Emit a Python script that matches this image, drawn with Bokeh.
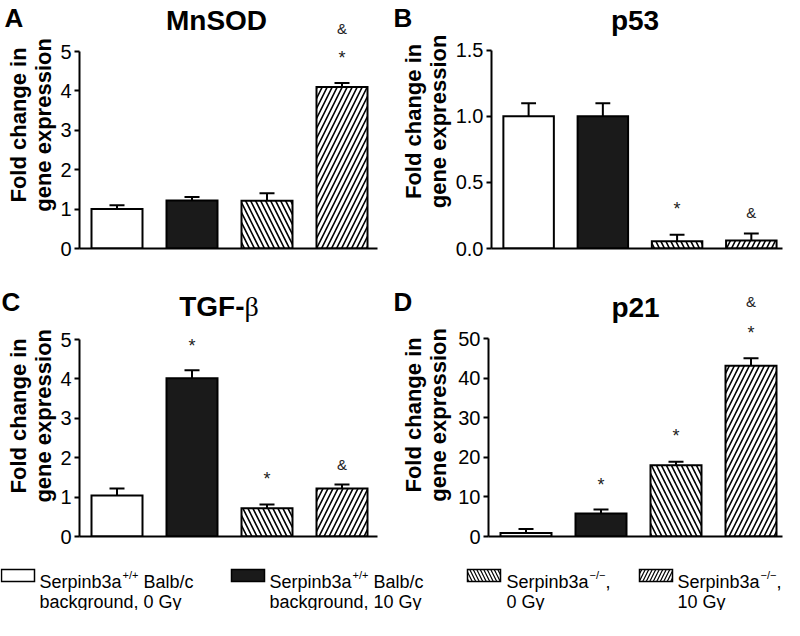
import math
from bokeh.plotting import figure
from bokeh.models import Range1d, FixedTicker, NumeralTickFormatter, Label, ColumnDataSource
from bokeh.layouts import column, row
from bokeh.core.properties import value
from bokeh.embed import file_html
from bokeh.resources import INLINE

# ---------------- data ----------------
bar_x = [0, 1, 2, 3]

mnsod_mean = [1.0, 1.22, 1.21, 4.10]
mnsod_err = [0.10, 0.09, 0.19, 0.10]
mnsod_ann_sym = ["*", "&"]
mnsod_ann_bar = [3, 3]
mnsod_ann_y = [4.93, 5.59]

p53_mean = [1.0, 1.0, 0.055, 0.06]
p53_err = [0.10, 0.10, 0.05, 0.053]
p53_ann_sym = ["*", "&"]
p53_ann_bar = [2, 3]
p53_ann_y = [0.33, 0.27]

tgfb_mean = [1.04, 4.02, 0.72, 1.22]
tgfb_err = [0.18, 0.20, 0.09, 0.10]
tgfb_ann_sym = ["*", "*", "&"]
tgfb_ann_bar = [1, 2, 3]
tgfb_ann_y = [4.94, 1.55, 1.83]

p21_mean = [0.9, 5.8, 18.0, 43.1]
p21_err = [1.0, 1.0, 0.9, 1.9]
p21_ann_sym = ["*", "*", "*", "&"]
p21_ann_bar = [1, 2, 3, 3]
p21_ann_y = [13.9, 26.4, 52.4, 59.4]

ticks_5 = [0, 1, 2, 3, 4, 5]
ticks_p53 = [0.0, 0.5, 1.0, 1.5]
ticks_p21 = [0, 10, 20, 30, 40, 50]

ylabel_lines = ["Fold change in", "gene expression"]

legend_main = ["Serpinb3a", "Serpinb3a", "Serpinb3a", "Serpinb3a"]
legend_sup = ["+/+", "+/+", "\u2212/\u2212", "\u2212/\u2212"]
legend_tail = ["Balb/c", "Balb/c", ",", ","]
legend_tail_gap = [" ", " ", "", ""]
legend_line2 = ["background, 0 Gy", "background, 10 Gy", "0 Gy", "10 Gy"]

# ---------------- styles ----------------
FONT = "Liberation Sans"
FILL = ["white", "#1a1a1a", "white", "white"]
HATCH = [" ", " ", "left_diagonal_line", "right_diagonal_line"]
PX = 75.0
XS = -0.5
ROW_H = 283


def make_strip(w, h, letter, letter_x, letter_base, lab_y, lab_x):
    s = figure(width=w, height=h, output_backend="svg", toolbar_location=None,
               x_range=Range1d(0, w), y_range=Range1d(h, 0),
               x_axis_type=None, y_axis_type=None,
               min_border_left=0, min_border_right=0, min_border_top=0, min_border_bottom=0)
    s.outline_line_color = None
    s.xgrid.visible = False
    s.ygrid.visible = False
    s.text(x=[letter_x], y=[letter_base], text=[letter], text_font=value(FONT),
           text_font_style="bold", text_font_size="26px", text_align="left",
           text_baseline="alphabetic", text_color="black")
    s.text(x=lab_x, y=[lab_y] * len(lab_x), text=ylabel_lines, angle=math.pi / 2,
           text_font=value(FONT), text_font_style="bold", text_font_size="22px",
           text_align="center", text_baseline="alphabetic", text_color="black")
    return s


def make_panel(mean, err, a_sym, a_bar, a_y, ticks, fmt, fig_w, fig_h, fw,
               frame_left, y_top_px, y_zero_px, title_parts, strip_w):
    # frame_left is measured from the panel origin (strip included)
    top_tick = ticks[-1]
    scale = (y_zero_px - y_top_px) / top_tick
    y_end = top_tick + y_top_px / scale
    w = fig_w - strip_w
    bl = frame_left - strip_w
    p = figure(width=w, height=fig_h, output_backend="svg", toolbar_location=None,
               x_range=Range1d(XS, XS + fw / PX), y_range=Range1d(0, y_end),
               min_border_left=bl, min_border_right=w - bl - fw,
               min_border_top=0, min_border_bottom=fig_h - y_zero_px)
    p.outline_line_color = None
    p.xgrid.visible = False
    p.ygrid.visible = False

    def dx(px):
        return XS + (px - frame_left) / PX

    def dy(py):
        return y_end - py / scale

    src = ColumnDataSource(dict(x=bar_x, top=mean, fill=FILL, hatch=HATCH))
    p.vbar(x="x", top="top", bottom=0, width=0.68, source=src,
           fill_color="fill", line_color="black", line_width=2, line_join="miter",
           hatch_pattern="hatch", hatch_color="black", hatch_weight=1.6, hatch_scale=10)
    up = [m + e for m, e in zip(mean, err)]
    p.segment(x0=bar_x, y0=mean, x1=bar_x, y1=up, line_color="black", line_width=2)
    p.segment(x0=[x - 0.1 for x in bar_x], y0=up, x1=[x + 0.1 for x in bar_x], y1=up,
              line_color="black", line_width=2)
    sizes = ["18px" if s == "*" else "15px" for s in a_sym]
    offs = [4 if s == "*" else 0 for s in a_sym]
    p.text(x=a_bar, y=a_y, text=a_sym, text_align="center", text_baseline="middle",
           text_font=value(FONT), text_font_size=sizes, y_offset=offs, text_color="#222222")

    xa = p.xaxis[0]
    xa.ticker = FixedTicker(ticks=[])
    xa.axis_line_width = 2
    xa.axis_line_color = "black"
    xa.major_label_text_font_size = "0px"

    ya = p.yaxis[0]
    ya.ticker = FixedTicker(ticks=ticks, minor_ticks=[])
    ya.bounds = (0, top_tick)
    ya.formatter = NumeralTickFormatter(format=fmt)
    ya.axis_line_width = 2
    ya.axis_line_color = "black"
    ya.major_tick_line_width = 2
    ya.major_tick_line_color = "black"
    ya.major_tick_out = 5
    ya.major_tick_in = 0
    ya.minor_tick_line_color = None
    ya.major_label_text_font = FONT
    ya.major_label_text_font_size = "20px"
    ya.major_label_text_color = "black"
    ya.major_label_standoff = 3

    for (txt, px, base, align, font, style) in title_parts:
        p.add_layout(Label(x=dx(px), y=dy(base), text=txt, text_font=font,
                           text_font_style=style, text_font_size="28px",
                           text_align=align, text_baseline="alphabetic", text_color="black"))
    return p


SL, SR = 57, 60  # strip widths (left / right column)

sA = make_strip(SL, ROW_H, "A", 4, 20, 142, [18, 43])
pA = make_panel(mnsod_mean, mnsod_err, mnsod_ann_sym, mnsod_ann_bar, mnsod_ann_y,
                ticks_5, "0", 392, ROW_H, 298, 79, 51, 248,
                [("MnSOD", 216, 20, "center", FONT, "bold")], SL)
sB = make_strip(SR, ROW_H, "B", 1, 20, 138, [21, 46])
pB = make_panel(p53_mean, p53_err, p53_ann_sym, p53_ann_bar, p53_ann_y,
                ticks_p53, "0.0", 392, ROW_H, 294, 96, 50, 249,
                [("p53", 241, 20, "center", FONT, "bold")], SR)
sC = make_strip(SL, ROW_H, "C", 1, 21, 148, [18, 43])
pC = make_panel(tgfb_mean, tgfb_err, tgfb_ann_sym, tgfb_ann_bar, tgfb_ann_y,
                ticks_5, "0", 392, ROW_H, 298, 79, 57, 257,
                [("TGF-", 244, 23, "right", FONT, "bold"),
                 ("\u03b2", 244, 23, "left", "Liberation Serif", "normal")], SL)
sD = make_strip(SR, ROW_H, "D", 1, 21, 147, [21, 46])
pD = make_panel(p21_mean, p21_err, p21_ann_sym, p21_ann_bar, p21_ann_y,
                ticks_p21, "0", 392, ROW_H, 294, 96, 55, 253,
                [("p21", 243, 24, "center", FONT, "bold")], SR)

# ---------------- legend ----------------
W = {'S': 667, 'e': 556, 'r': 333, 'p': 556, 'i': 222, 'n': 556, 'b': 556, '3': 556,
     'a': 556, ' ': 278, 'B': 667, 'l': 222, '/': 278, 'c': 500, '+': 584,
     '\u2212': 584, ',': 278}


def tw(s, size):
    return sum(W.get(ch, 556) for ch in s) / 1000.0 * size


LEG_W, LEG_H = 784, 44
box_left = [1, 231, 467, 639]
text_left = [39, 269, 506, 677]
MAIN, SUP = 18, 11
BASE1, BASE2, SUPB = 15, 35, 8

pL = figure(width=LEG_W, height=LEG_H, output_backend="svg", toolbar_location=None,
            x_range=Range1d(0, LEG_W), y_range=Range1d(LEG_H, 0),
            x_axis_type=None, y_axis_type=None,
            min_border_left=0, min_border_right=0, min_border_top=0, min_border_bottom=0)
pL.outline_line_color = None
pL.xgrid.visible = False
pL.ygrid.visible = False
pL.rect(x=[b + 16.5 for b in box_left], y=[9] * 4, width=33, height=12,
        fill_color=FILL, line_color="black", line_width=1.5, line_join="miter",
        hatch_pattern=HATCH, hatch_color="black", hatch_weight=1.2, hatch_scale=7)

xs, ys, ts, sz = [], [], [], []
for i in range(4):
    x0 = text_left[i]
    xs.append(x0); ys.append(BASE1); ts.append(legend_main[i]); sz.append(f"{MAIN}px")
    x1 = x0 + tw(legend_main[i], MAIN) + 1
    xs.append(x1); ys.append(SUPB); ts.append(legend_sup[i]); sz.append(f"{SUP}px")
    x2 = x1 + tw(legend_sup[i], SUP) + tw(legend_tail_gap[i], MAIN)
    xs.append(x2); ys.append(BASE1); ts.append(legend_tail[i]); sz.append(f"{MAIN}px")
    xs.append(x0); ys.append(BASE2); ts.append(legend_line2[i]); sz.append(f"{MAIN}px")
pL.text(x=xs, y=ys, text=ts, text_font_size=sz, text_font=value(FONT),
        text_align="left", text_baseline="alphabetic", text_color="black")

layout = column(row(sA, pA, sB, pB), row(sC, pC, sD, pD), pL)
open("out.html", "w").write(file_html(layout, INLINE))
